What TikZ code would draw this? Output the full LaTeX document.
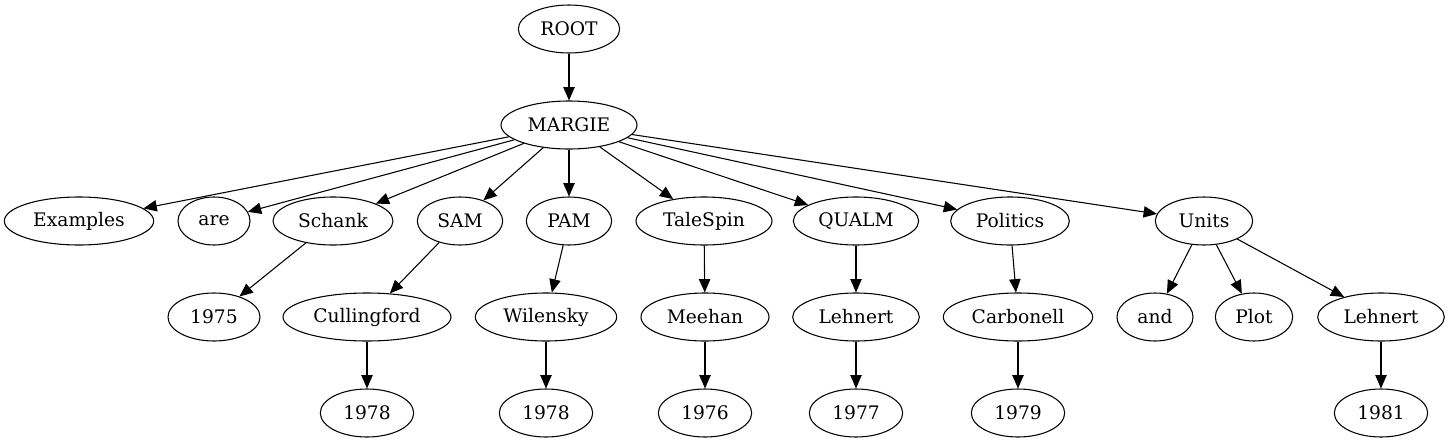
\documentclass[tikz,border=0pt]{standalone}
\usepackage{fontspec}
\setmainfont{DejaVu Serif}
\usetikzlibrary{shapes.geometric,arrows.meta}
\tikzset{
  nd/.style={ellipse, draw, line width=0.8pt, minimum height=36pt, minimum width=#1, inner sep=0pt, font=\fontsize{14pt}{16pt}\selectfont},
  ed/.style={line width=0.8pt, -{Triangle[length=10pt,width=8.5pt]}}
}
\begin{document}
\begin{tikzpicture}[x=0.75pt,y=-0.75pt]
\useasboundingbox (0,0) rectangle (1450,443);
% row 1-2
\node[nd=76pt] (root) at (569,29) {ROOT};
\node[nd=102pt] (margie) at (569,125) {MARGIE};
% row 3
\node[nd=112pt] (examples) at (79,221) {Examples};
\node[nd=54pt] (are) at (214,221) {are};
\node[nd=90pt] (schank) at (333,221) {Schank};
\node[nd=64pt] (sam) at (460,221) {SAM};
\node[nd=64pt] (pam) at (569,221) {PAM};
\node[nd=102pt] (talespin) at (704,221) {TaleSpin};
\node[nd=94pt] (qualm) at (856,221) {QUALM};
\node[nd=89pt] (politics) at (1010,221) {Politics};
\node[nd=73pt] (units) at (1204,221) {Units};
% row 4
\node[nd=69pt] (y1975) at (214,317) {1975};
\node[nd=126pt] (cullingford) at (367,317) {Cullingford};
\node[nd=106pt] (wilensky) at (546,317) {Wilensky};
\node[nd=96pt] (meehan) at (705,317) {Meehan};
\node[nd=95pt] (lehnerta) at (856,317) {Lehnert};
\node[nd=112pt] (carbonell) at (1018,317) {Carbonell};
\node[nd=57pt] (and) at (1155,317) {and};
\node[nd=58pt] (plot) at (1254,317) {Plot};
\node[nd=95pt] (lehnertb) at (1381,317) {Lehnert};
% row 5
\node[nd=70pt] (y1978a) at (367,413) {1978};
\node[nd=70pt] (y1978b) at (546,413) {1978};
\node[nd=70pt] (y1976) at (705,413) {1976};
\node[nd=70pt] (y1977) at (856,413) {1977};
\node[nd=70pt] (y1979) at (1018,413) {1979};
\node[nd=70pt] (y1981) at (1381,413) {1981};
% edges
\draw[ed] (root) -- (margie);
\foreach \t in {examples,are,schank,sam,pam,talespin,qualm,politics,units}
  \draw[ed] (margie) -- (\t);
\draw[ed] (schank) -- (y1975);
\draw[ed] (sam) -- (cullingford);
\draw[ed] (pam) -- (wilensky);
\draw[ed] (talespin) -- (meehan);
\draw[ed] (qualm) -- (lehnerta);
\draw[ed] (politics) -- (carbonell);
\draw[ed] (units) -- (and);
\draw[ed] (units) -- (plot);
\draw[ed] (units) -- (lehnertb);
\draw[ed] (cullingford) -- (y1978a);
\draw[ed] (wilensky) -- (y1978b);
\draw[ed] (meehan) -- (y1976);
\draw[ed] (lehnerta) -- (y1977);
\draw[ed] (carbonell) -- (y1979);
\draw[ed] (lehnertb) -- (y1981);
\end{tikzpicture}
\end{document}
